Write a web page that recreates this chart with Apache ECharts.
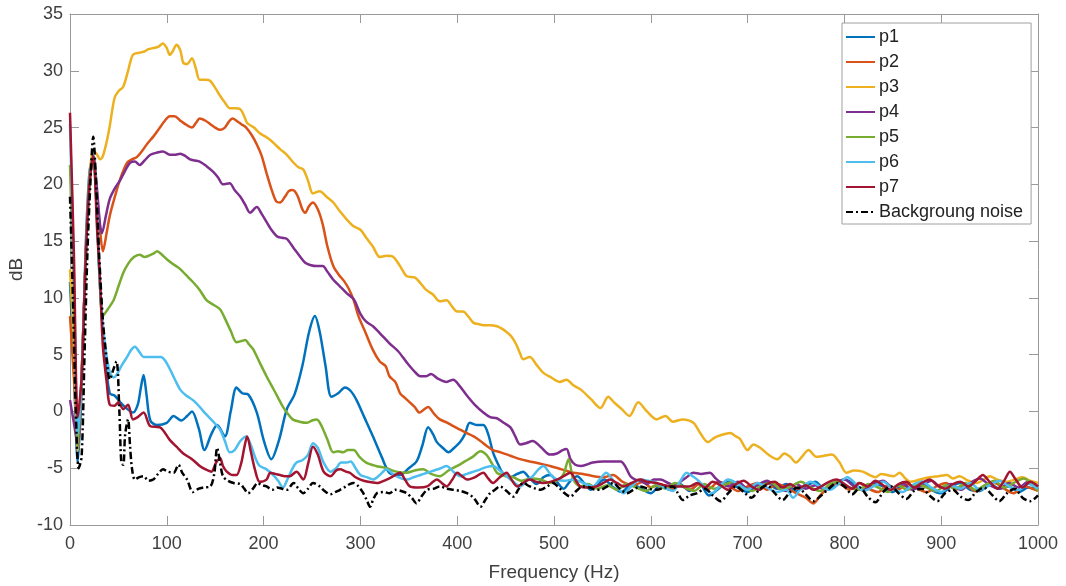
<!DOCTYPE html>
<html>
<head>
<meta charset="utf-8">
<script src="https://cdn.jsdelivr.net/npm/echarts@6/dist/echarts.min.js"></script>
<style>html,body{margin:0;padding:0;background:#fff}#c{width:1066px;height:586px}</style>
</head>
<body>
<div id="c"></div>
<script>
const seriesNames = ['p1','p2','p3','p4','p5','p6','p7','Backgroung noise'];
const xTicks = [0,100,200,300,400,500,600,700,800,900,1000];
const yTicks = [-10,-5,0,5,10,15,20,25,30,35];

const p1 = [[0,11.4],[4,4],[8,-4.5],[12,2],[16,14],[20,21],[24,22.5],[28,17],[31,11],[36,5],[41,1.6],[46,1.4],[52,0.8],[58,0.3],[65,-0.1],[70,0.6],[73,2],[76,3.2],[79,1.5],[83,-0.8],[90,-1.2],[100,-1],[107,-0.4],[115,-0.8],[121,-0.4],[126,0],[133,-1.5],[139,-3.4],[146,-2],[152,-1.2],[160,-2.2],[166,0],[172,2.1],[178,1.6],[184,1.5],[193,-0.1],[200,-2.5],[208,-4.2],[216,-2.5],[224,0.2],[232,1.5],[240,4],[247,7],[253,8.4],[258,7],[264,4],[270,1.3],[277,1.6],[284,2.1],[290,1.8],[296,1.0],[304,-0.5],[313,-2.2],[322,-4],[330,-5.4],[341,-5.6],[350,-5],[358,-4.4],[364,-3],[370,-1.4],[375,-2],[379,-2.7],[385,-3.2],[391,-3.6],[397,-3.2],[403,-2.7],[408,-2],[413,-1],[420,-1.2],[427,-1.2],[432,-2],[437,-3.6],[442,-4.6],[447,-5.4],[455,-5.8],[462,-5.5],[468,-5.3],[475,-5.9],[482,-6.4],[489,-5.8],[496,-5.6],[503,-6.2],[510,-6.8],[517,-6.1],[524,-5.7],[531,-6.3],[538,-6.9],[545,-6.4],[552,-6],[560,-6.6],[570,-7.1],[580,-6.4],[590,-6.8],[600,-7.2],[610,-6.5],[620,-6.9],[630,-6.4],[640,-7.0],[650,-6.3],[660,-7.4],[670,-6.8],[680,-6.2],[690,-6.7],[700,-7.1],[710,-6.5],[720,-6.2],[730,-6.8],[740,-6.4],[750,-7.0],[760,-6.6],[770,-6.2],[780,-6.9],[790,-6.5],[800,-6.0],[810,-6.4],[820,-6.9],[830,-6.3],[840,-6.6],[850,-7.1],[860,-6.5],[870,-6.8],[880,-6.2],[890,-6.9],[900,-7.2],[910,-6.6],[920,-6.3],[930,-6.9],[940,-7.0],[950,-6.4],[960,-6.8],[970,-6.6],[980,-7.1],[990,-6.7],[1000,-6.9]];

const p2 = [[0,8.4],[4,3],[8,-3],[12,3],[16,13],[20,20],[24,22.5],[28,19],[31,16],[34,14.1],[38,15.8],[41,17.2],[46,18.8],[52,20.5],[59,21.9],[64,22.2],[69,22.4],[75,23],[80,23.6],[86,24.2],[92,24.9],[98,25.6],[103,26],[108,26],[114,25.6],[119,25.3],[126,25],[130,25.4],[134,25.8],[140,25.6],[145,25.3],[150,25],[155,24.8],[160,25],[164,25.5],[168,25.8],[172,25.6],[177,25.3],[182,25],[188,24.3],[193,23.5],[198,22.5],[203,21],[208,19.6],[213,18.5],[217,18.4],[222,18.9],[226,19.4],[230,19.5],[235,19],[240,17.8],[243,17.5],[247,18.1],[251,18.4],[256,17.8],[261,16.5],[266,14.5],[272,12.8],[278,12],[283,11.5],[288,10.8],[293,9.8],[298,8.4],[305,7],[313,5.4],[320,4.4],[326,4],[330,3.1],[336,2.6],[341,1.6],[346,1.2],[351,0.8],[356,0.4],[361,-0.1],[366,0.2],[370,0.4],[376,-0.2],[382,-0.7],[390,-1],[396,-1.3],[403,-1.6],[410,-1.9],[417,-2.2],[424,-2.6],[430,-3],[437,-3.4],[445,-3.6],[455,-3.9],[465,-4.2],[475,-4.4],[486,-4.6],[496,-4.8],[508,-5.1],[520,-5.4],[530,-5.5],[541,-5.7],[551,-5.8],[561,-5.6],[571,-6.2],[582,-6.5],[592,-6.2],[600,-6.7],[610,-6.4],[620,-6.9],[630,-6.5],[640,-6.9],[650,-6.4],[660,-6.8],[670,-6.2],[680,-6.5],[690,-7.0],[700,-6.6],[710,-6.3],[720,-6.9],[730,-6.4],[740,-6.7],[750,-7.2],[760,-7.6],[768,-8.1],[775,-7.4],[785,-6.6],[795,-6.4],[805,-6.9],[815,-6.3],[825,-6.8],[835,-7.1],[845,-6.5],[855,-6.9],[865,-6.4],[875,-6.8],[885,-7.1],[895,-6.6],[905,-6.3],[915,-6.9],[925,-6.5],[935,-7.0],[945,-6.7],[955,-6.3],[965,-6.8],[975,-7.2],[985,-6.6],[1000,-7.0]];

const p3 = [[0,12.5],[4,6],[8,-3.5],[12,3],[16,13],[20,20.5],[24,23],[28,22.6],[31,22.2],[34,22.5],[38,23.8],[41,25.1],[46,27.6],[50,28.2],[55,28.6],[60,30],[65,31.4],[72,31.6],[77,31.7],[81,31.9],[86,32],[91,32.1],[96,32.4],[100,32],[103,31.4],[106,31.7],[110,32.3],[114,31.8],[117,30.7],[121,30.6],[126,31.1],[130,30.2],[134,29.2],[140,29.2],[145,29.1],[150,28.5],[155,27.8],[160,27.2],[165,26.7],[170,26.7],[176,26.6],[180,26],[183,25.4],[190,25],[196,24.5],[202,24.2],[207,23.9],[212,23.5],[217,23.1],[224,22.6],[231,21.9],[236,21.5],[241,21.3],[246,20.3],[251,19.2],[258,19.4],[265,18.9],[272,18.4],[279,17.6],[286,16.9],[293,16.3],[300,16],[306,15.3],[313,14.5],[320,13.6],[327,13.7],[334,13.6],[341,12.8],[348,11.9],[356,11.8],[362,11.3],[368,10.7],[375,10.3],[382,9.7],[389,9.8],[395,9.2],[400,8.8],[406,8.8],[412,8.3],[417,7.8],[422,7.7],[427,7.6],[434,7.6],[441,7.5],[446,7.3],[451,7],[456,6.6],[461,5.9],[465,5.1],[468,4.6],[475,4.8],[482,4.1],[489,3.4],[497,3],[506,2.6],[513,2.8],[520,2.3],[528,1.9],[538,1.1],[548,0.3],[556,1.3],[562,0.8],[570,0.2],[578,-0.4],[587,0.8],[596,0],[606,-0.7],[615,-0.4],[623,-0.9],[633,-0.7],[644,-1.0],[651,-1.9],[659,-2.7],[666,-2.3],[672,-2.1],[682,-1.9],[688,-2.2],[692,-2.4],[700,-3.4],[706,-2.9],[713,-3.2],[723,-3.9],[731,-4.2],[738,-3.7],[744,-4.0],[750,-4.5],[756,-4],[763,-3.4],[771,-4.0],[779,-3.9],[787,-3.8],[795,-4.5],[802,-5.4],[810,-5.2],[819,-5.3],[826,-5.6],[832,-5.8],[838,-5.5],[844,-5.6],[851,-5.7],[857,-5.4],[863,-5.9],[868,-6.2],[878,-6],[888,-5.8],[897,-5.7],[906,-5.6],[912,-5.9],[919,-5.7],[928,-6.1],[937,-6.3],[944,-6],[950,-5.7],[958,-6],[968,-6.2],[976,-6.0],[984,-5.8],[992,-6.1],[1000,-6.3]];

const p4 = [[0,1],[4,-1],[8,-3],[12,3],[16,13],[20,20],[24,22.5],[28,19.5],[31,16.5],[33,15.7],[37,17.2],[41,18.7],[46,19.6],[52,20.4],[57,21.2],[62,21.9],[67,22],[72,21.7],[77,22.1],[83,22.6],[90,22.8],[96,22.9],[103,22.6],[108,22.6],[114,22.7],[119,22.5],[124,22.2],[129,22.1],[134,22],[141,21.6],[148,21.1],[153,20.6],[158,20],[165,20.1],[170,19.5],[176,18.9],[181,18.2],[186,17.5],[193,18],[198,17.4],[203,16.7],[208,16],[214,15.4],[219,15.3],[224,15.2],[231,14.4],[238,13.6],[243,13.1],[248,12.9],[255,12.8],[261,12.8],[266,12.3],[272,11.6],[279,11],[286,10.4],[293,9.9],[300,8.6],[306,7.9],[313,7.5],[320,6.9],[330,6],[339,5.3],[348,4.3],[355,3.6],[362,3.1],[368,3.1],[373,3.3],[380,2.9],[389,2.6],[396,2.8],[402,2.3],[410,1.4],[418,0.6],[427,-0.1],[434,-0.5],[441,-0.6],[448,-1],[455,-1.4],[460,-2.2],[465,-2.9],[471,-2.8],[478,-2.6],[486,-3.1],[496,-3.8],[503,-3.7],[509,-3.4],[513,-3.3],[517,-4.2],[522,-4.7],[528,-4.8],[540,-4.5],[551,-4.4],[561,-4.4],[569,-4.4],[574,-4.9],[579,-5.7],[584,-6],[589,-6.1],[596,-6.4],[603,-6],[610,-6.0],[618,-6.3],[625,-6.5],[632,-6.1],[637,-5.8],[644,-5.4],[652,-5.5],[661,-5.4],[667,-5.9],[671,-6.2],[680,-6.6],[690,-6.2],[700,-6.8],[710,-6.5],[720,-6.1],[730,-6.7],[740,-7.0],[750,-6.4],[760,-6.8],[770,-6.5],[780,-6.9],[790,-6.3],[800,-6.0],[810,-6.6],[820,-6.9],[830,-6.4],[840,-6.1],[850,-6.7],[860,-6.3],[870,-6.9],[880,-6.5],[890,-6.1],[900,-6.7],[910,-6.4],[920,-6.9],[930,-6.3],[940,-5.9],[950,-6.5],[960,-6.8],[970,-6.3],[980,-6.7],[990,-6.2],[1000,-6.6]];

const p5 = [[0,21.7],[4,10],[8,-3],[12,3],[16,13],[20,20],[24,22.5],[28,17],[31,11],[34,8.4],[39,9],[45,9.8],[50,11],[55,12.2],[60,13],[66,13.6],[72,13.8],[77,13.6],[81,13.7],[86,13.9],[90,14.1],[95,13.8],[100,13.4],[106,13],[113,12.6],[120,12],[127,11.4],[134,10.7],[141,9.8],[148,9.4],[155,9],[160,8.2],[166,7.1],[172,6.1],[177,6.2],[181,6.3],[185,5.9],[189,5.5],[196,4.3],[203,3.1],[210,2],[215,1.2],[220,0.4],[225,-0.2],[230,-0.7],[237,-0.9],[245,-1],[250,-0.8],[255,-0.7],[260,-1.3],[266,-2.5],[272,-3.6],[277,-3.5],[282,-3.6],[287,-3.4],[293,-3.4],[299,-4],[306,-4.5],[316,-4.8],[327,-5],[337,-5.3],[348,-5.4],[356,-5.2],[365,-5.1],[373,-5.5],[382,-5.7],[391,-5.2],[400,-4.8],[408,-4.4],[416,-4],[424,-3.5],[430,-3.8],[436,-4.6],[441,-5.4],[450,-5.7],[458,-5.8],[466,-6.1],[476,-5.9],[486,-6],[496,-6.3],[505,-6],[510,-5.5],[515,-4.2],[520,-6],[527,-6.6],[535,-6.4],[545,-6.8],[555,-6.5],[565,-6.9],[575,-6.4],[585,-6.7],[595,-7.0],[605,-6.5],[615,-6.8],[625,-6.3],[635,-6.7],[645,-7.0],[655,-6.4],[665,-6.8],[675,-6.5],[685,-6.2],[695,-6.7],[705,-7.0],[715,-6.5],[725,-6.3],[735,-6.9],[745,-6.6],[755,-6.2],[765,-6.7],[775,-7.0],[785,-6.4],[795,-6.2],[805,-6.7],[815,-6.9],[825,-6.4],[835,-6.7],[845,-7.1],[855,-6.5],[865,-6.9],[875,-6.4],[885,-6.7],[895,-7.0],[905,-6.5],[915,-6.8],[925,-6.3],[935,-6.9],[945,-6.5],[955,-6.1],[965,-6.7],[975,-6.3],[985,-5.9],[1000,-7.0]];

const p6 = [[0,25.3],[4,12],[8,-2],[12,3],[16,13],[20,20],[24,22.5],[28,17],[31,11],[36,6],[41,3.5],[45,3],[48,3.2],[53,4],[59,4.8],[63,5.4],[67,5.7],[72,5.2],[76,4.8],[82,4.8],[88,4.8],[94,4.8],[98,4.5],[104,3.6],[109,2.7],[114,1.9],[120,1.4],[127,1],[134,0.4],[140,-0.2],[148,-0.9],[155,-1.6],[160,-2.6],[165,-3.6],[170,-3.4],[176,-2.6],[182,-2.2],[187,-3],[192,-4.2],[196,-4.8],[203,-5.1],[210,-5.6],[215,-6.1],[220,-6.7],[225,-5.9],[230,-5],[234,-4.5],[240,-4.3],[246,-3.8],[251,-2.8],[256,-3.2],[262,-4.5],[269,-5.3],[275,-5],[280,-4.5],[286,-4.5],[290,-4.4],[295,-5],[300,-5.6],[307,-5.8],[313,-6],[320,-5.6],[327,-5.1],[335,-5.6],[342,-5.9],[348,-6],[355,-5.8],[362,-5.6],[369,-5.4],[376,-5.2],[383,-5],[389,-4.8],[396,-5.3],[403,-5.7],[410,-5.5],[417,-5.3],[424,-5.1],[430,-4.9],[437,-4.8],[444,-5.2],[451,-5.7],[458,-6.2],[465,-6.6],[472,-6.1],[478,-5.7],[484,-5.1],[489,-4.8],[496,-5.5],[503,-6],[511,-6.1],[520,-6],[530,-6.3],[540,-6.6],[547,-6],[554,-5.4],[562,-6.2],[572,-7.2],[580,-6.6],[589,-6],[597,-6.1],[606,-6.3],[614,-6.7],[623,-7],[630,-6.2],[637,-5.4],[643,-5.7],[648,-6],[655,-6.6],[663,-7.2],[672,-6.5],[680,-6.0],[690,-6.4],[700,-6.9],[710,-6.3],[720,-6.7],[730,-7.1],[740,-6.9],[747,-7.6],[755,-6.8],[765,-6.2],[775,-6.6],[785,-6.9],[795,-6.3],[803,-5.8],[812,-6.4],[820,-7.0],[830,-6.6],[840,-6.2],[850,-6.8],[860,-7.1],[870,-6.5],[880,-6.2],[890,-6.7],[900,-7.1],[910,-6.5],[920,-6.8],[930,-6.3],[940,-6.9],[950,-6.5],[960,-6.1],[970,-6.6],[980,-6.9],[990,-6.4],[1000,-6.8]];

const p7 = [[0,26.3],[4,14],[8,-0.5],[12,3],[16,13],[20,20],[24,22.5],[28,16],[31,11.6],[34,5.7],[38,2.5],[41,0.6],[46,0.5],[50,0.8],[55,0.2],[60,0.6],[65,-0.7],[70,-0.5],[76,-0.1],[83,-1.3],[93,-1.4],[103,-2.5],[110,-3.1],[117,-3.7],[126,-4.2],[134,-4.8],[140,-5.1],[146,-5.3],[151,-4.5],[155,-4.1],[158,-4.8],[162,-5.3],[168,-5.6],[172,-5.6],[177,-4.5],[180,-3.2],[183,-2.2],[187,-3.6],[191,-5.1],[196,-6.2],[203,-6],[207,-5.4],[212,-5.5],[217,-5.6],[222,-5.7],[227,-5.7],[234,-5.3],[241,-6],[246,-4.6],[251,-3.1],[256,-3.8],[262,-5.3],[269,-5.7],[275,-5.2],[279,-5.1],[285,-5.3],[289,-5.4],[295,-5.8],[300,-6],[308,-6.2],[317,-6.3],[327,-6],[334,-5.7],[341,-5.4],[346,-6],[351,-6.6],[360,-6.7],[369,-6.6],[375,-6.2],[379,-6],[384,-6.3],[389,-6.6],[395,-6],[400,-5.4],[405,-5.7],[410,-6],[418,-5.8],[427,-5.4],[432,-5.9],[437,-6.3],[444,-5.8],[451,-5.4],[456,-6],[462,-6.6],[468,-6.3],[475,-6],[482,-6.2],[489,-6.3],[496,-6.2],[503,-6],[510,-5.7],[517,-5.4],[522,-6],[527,-6.6],[535,-6.7],[544,-6.6],[551,-6.3],[558,-6],[565,-6.3],[572,-6.6],[580,-6.3],[589,-6],[597,-6.2],[606,-6.3],[614,-6.5],[623,-6.6],[631,-6.6],[640,-6.6],[648,-6.3],[656,-6.7],[664,-6.2],[672,-6.5],[680,-6.9],[688,-6.4],[696,-6.1],[704,-6.6],[712,-6.9],[720,-6.4],[728,-6.2],[736,-6.7],[744,-6.4],[752,-6.8],[760,-6.5],[768,-6.9],[776,-6.6],[784,-6.2],[792,-6.0],[800,-6.4],[808,-6.8],[816,-6.3],[824,-6.6],[832,-6.1],[840,-6.5],[848,-6.9],[856,-6.4],[864,-6.2],[872,-6.7],[880,-6.3],[888,-6.0],[896,-6.5],[904,-6.8],[912,-6.4],[920,-6.2],[928,-6.6],[936,-6.1],[943,-5.6],[950,-6.2],[958,-6.8],[965,-6.1],[971,-5.3],[977,-6.0],[984,-6.7],[992,-6.2],[1000,-6.6]];

const noise = [[0,18.9],[3,10],[6,0],[9,-5],[12,-4],[15,5],[18,14],[21,20],[24,24.2],[27,20],[30,14],[34,8],[38,4.5],[41,2.8],[44,3.5],[48,4.4],[51,0],[53,-4.5],[55,-4.7],[57,-2],[60,-0.7],[62,-3],[64,-5],[67,-6],[71,-5.8],[76,-5.7],[81,-6.1],[86,-6],[91,-5.5],[96,-5.1],[101,-5.3],[107,-5.4],[112,-4.7],[116,-5.4],[121,-6],[127,-7.1],[133,-6.8],[138,-6.7],[145,-6.6],[149,-5.5],[152,-3.2],[155,-4.5],[158,-5.7],[163,-6.1],[169,-6.3],[176,-6.4],[180,-6.8],[184,-7.2],[189,-6.8],[194,-6.3],[198,-6.5],[203,-6.6],[209,-6.9],[214,-6.7],[219,-6.8],[224,-6.9],[231,-6.3],[236,-6.8],[241,-7.2],[246,-6.8],[251,-6.3],[258,-6.6],[263,-7],[269,-7.3],[274,-7.1],[279,-6.9],[285,-6.6],[289,-6.4],[293,-6.3],[298,-6.6],[303,-7.2],[307,-7.9],[310,-8.4],[313,-7.8],[317,-7.2],[324,-7.1],[330,-7.2],[336,-6.9],[342,-7],[348,-7.2],[353,-7.6],[358,-8.1],[363,-7.5],[369,-6.9],[376,-6.8],[382,-6.6],[389,-6.8],[396,-6.9],[403,-7],[410,-7.2],[417,-7.6],[421,-8.1],[424,-8.4],[429,-7.8],[434,-7.2],[439,-6.9],[444,-6.6],[451,-7],[458,-7.5],[463,-6.9],[468,-6.3],[475,-6.6],[481,-6.8],[486,-6.9],[493,-6.6],[499,-6.3],[505,-6.7],[511,-7.2],[517,-7.5],[523,-7],[530,-6.6],[537,-6.7],[543,-6.9],[548,-6.9],[555,-6.6],[561,-6.3],[568,-6.8],[575,-7.2],[582,-6.9],[589,-6.6],[597,-6.8],[606,-6.9],[614,-6.7],[623,-6.6],[628,-7.2],[633,-7.8],[640,-7.4],[648,-7.2],[656,-6.8],[664,-7.4],[672,-7.9],[680,-7.2],[688,-6.6],[696,-7.1],[704,-7.6],[712,-6.9],[720,-6.5],[728,-7.2],[736,-7.8],[744,-7.1],[752,-6.7],[760,-7.3],[768,-7.9],[776,-7.4],[784,-6.8],[792,-6.3],[800,-6.6],[808,-7.3],[816,-6.7],[824,-7.5],[832,-8.0],[840,-7.1],[848,-6.6],[856,-7.2],[864,-7.7],[872,-7.0],[880,-6.8],[888,-7.4],[896,-7.9],[904,-7.2],[912,-6.9],[920,-7.5],[928,-7.8],[936,-7.1],[944,-6.7],[952,-7.3],[960,-7.9],[968,-7.2],[976,-6.8],[984,-7.6],[992,-7.9],[1000,-7.4]];

const colors = ['#0072BD','#D95319','#EDB120','#7E2F8E','#77AC30','#4DBEEE','#A2142F','#000000'];
const allData = [p1,p2,p3,p4,p5,p6,p7,noise];

const FONT = "'Liberation Sans', Arial, Helvetica, sans-serif";
const axisColor = '#9a9a9a';
const labelColor = '#404040';

const chart = echarts.init(document.getElementById('c'), null, {renderer:'canvas'});

function xAxisDef(pos, show) {
  return {
    type:'value', position: pos, min: xTicks[0], max: xTicks[xTicks.length-1], interval: xTicks[1]-xTicks[0],
    axisLine:{show:true, onZero:false, lineStyle:{color:axisColor, width:1}},
    axisTick:{show:true, inside:true, length:9, lineStyle:{color:axisColor}},
    axisLabel:{show:show, fontSize:18, color:labelColor, fontFamily:FONT, margin:10, formatter: v => String(v)},
    splitLine:{show:false},
    name: show ? 'Frequency (Hz)' : '', nameLocation:'middle', nameGap:38,
    nameTextStyle:{fontSize:19, color:labelColor, fontFamily:FONT}
  };
}
function yAxisDef(pos, show) {
  return {
    type:'value', position: pos, min: yTicks[0], max: yTicks[yTicks.length-1], interval: yTicks[1]-yTicks[0],
    axisLine:{show:true, onZero:false, lineStyle:{color:axisColor, width:1}},
    axisTick:{show:true, inside:true, length:9, lineStyle:{color:axisColor}},
    axisLabel:{show:show, fontSize:18, color:labelColor, fontFamily:FONT, margin:7, formatter: v => String(v)},
    splitLine:{show:false},
    name: show ? 'dB' : '', nameLocation:'middle', nameGap:33, nameRotate:90,
    nameTextStyle:{fontSize:19, color:labelColor, fontFamily:FONT}
  };
}

const series = seriesNames.map((n, i) => ({
  name: n, type:'line', xAxisIndex:0, yAxisIndex:0,
  data: allData[i], showSymbol:false, symbol:'none', smooth:0.3,
  lineStyle:{color:colors[i], width:2.5, type: i === 7 ? [7,3,2,3] : 'solid'},
  itemStyle:{color:colors[i]},
  emphasis:{disabled:true}, animation:false
}));

chart.setOption({
  animation:false,
  backgroundColor:'#ffffff',
  grid:{left:70, right:28, top:14, bottom:61, containLabel:false, outerBoundsMode:'none'},
  xAxis:[xAxisDef('bottom', true), xAxisDef('top', false)],
  yAxis:[yAxisDef('left', true), yAxisDef('right', false)],
  legend:{
    orient:'vertical', left:842, top:23,
    data: seriesNames,
    itemWidth:29, itemHeight:12, itemGap:7,
    padding:[5,8,3,3],
    backgroundColor:'#ffffff', borderColor:'#a0a0a0', borderWidth:1, borderRadius:0,
    itemStyle:{opacity:0, borderWidth:0},
    textStyle:{fontSize:18, color:'#222', fontFamily:FONT, padding:[0,0,0,-1]},
    selectedMode:false
  },
  series: series
});
</script>
</body>
</html>
